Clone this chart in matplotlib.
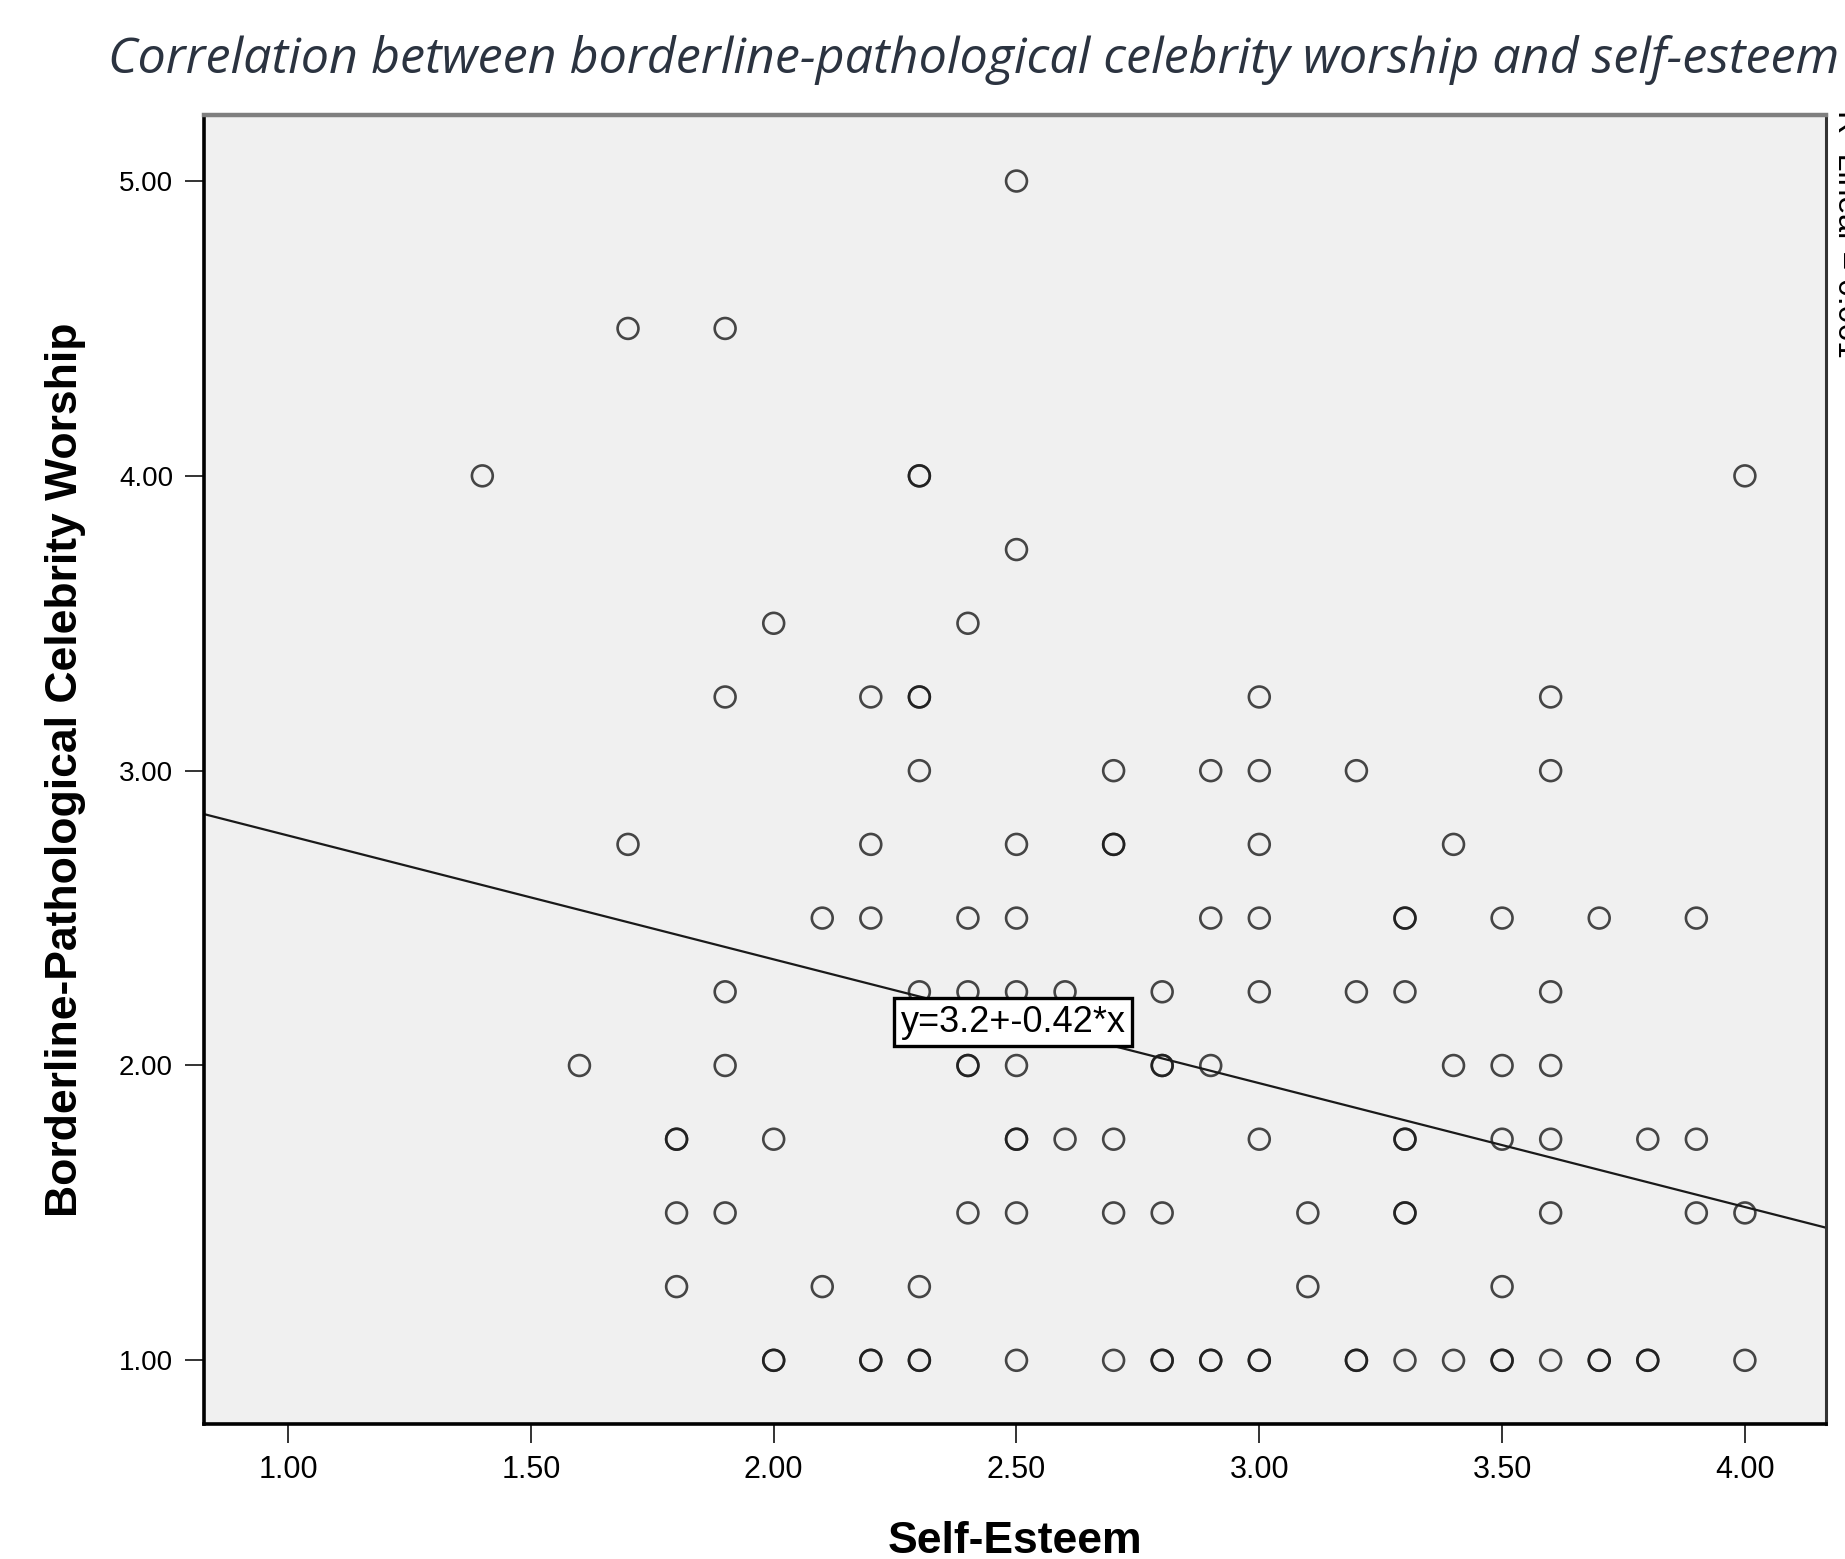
import matplotlib
matplotlib.use("Agg")
import matplotlib.pyplot as plt
import numpy as np

# scatter points, grouped by celebrity-worship level (duplicates repeated)
y_levels = [5.0, 4.5, 4.0, 3.75, 3.5, 3.25, 3.0, 2.75, 2.5, 2.25, 2.0, 1.75, 1.5, 1.25, 1.0]
x_by_level = [
    [2.5],
    [1.7, 1.9],
    [1.4, 2.3, 2.3, 4.0],
    [2.5],
    [2.0, 2.4],
    [1.9, 2.2, 2.3, 2.3, 3.0, 3.6],
    [2.3, 2.7, 2.9, 3.0, 3.2, 3.6],
    [1.7, 2.2, 2.5, 2.7, 2.7, 3.0, 3.4],
    [2.1, 2.2, 2.4, 2.5, 2.9, 3.0, 3.3, 3.3, 3.5, 3.7, 3.9],
    [1.9, 2.3, 2.4, 2.5, 2.6, 2.8, 3.0, 3.2, 3.3, 3.6],
    [1.6, 1.9, 2.4, 2.4, 2.5, 2.8, 2.8, 2.9, 3.4, 3.5, 3.6],
    [1.8, 1.8, 2.0, 2.5, 2.5, 2.6, 2.7, 3.0, 3.3, 3.3, 3.5, 3.6, 3.8, 3.9],
    [1.8, 1.9, 2.4, 2.5, 2.7, 2.8, 3.1, 3.3, 3.3, 3.6, 3.9, 4.0],
    [1.8, 2.1, 2.3, 3.1, 3.5],
    [2.0, 2.0, 2.2, 2.2, 2.3, 2.3, 2.5, 2.7, 2.8, 2.8, 2.9, 2.9, 3.0, 3.0,
     3.2, 3.2, 3.3, 3.4, 3.5, 3.5, 3.6, 3.7, 3.7, 3.8, 3.8, 4.0],
]

# fitted line as printed on the chart
intercept = 3.2
slope = -0.42
fit_label = "y=3.2+-0.42*x"
r2_label = "R² Linear = 0.061"

x_ticks = [1.0, 1.5, 2.0, 2.5, 3.0, 3.5, 4.0]
y_ticks = [1.0, 2.0, 3.0, 4.0, 5.0]

xs = np.concatenate([np.array(v) for v in x_by_level])
ys = np.concatenate([[y] * len(v) for y, v in zip(y_levels, x_by_level)])

W, H = 1845, 1559
fig = plt.figure(figsize=(W / 100, H / 100), dpi=100)
fig.patch.set_facecolor("white")

ax = fig.add_axes([203.6 / W, 1 - 1424 / H, (1826 - 203.6) / W, (1424 - 115) / H])
ax.set_facecolor("#f0f0f0")
ax.set_xlim(0.826, 4.167)
ax.set_ylim(0.784, 5.224)

ax.scatter(xs, ys, s=15 ** 2, facecolors="none", edgecolors="#1a1a1a",
           linewidths=1.9, alpha=0.8, zorder=3)

lx = np.array(ax.get_xlim())
ax.plot(lx, intercept + slope * lx, color="#1a1a1a", lw=1.6, zorder=2)

ax.text(2.493, 2.147, fit_label, ha="center", va="center", fontsize=26,
        family="Liberation Sans", zorder=5,
        bbox=dict(boxstyle="square,pad=0.18", fc="white", ec="black", lw=2.4))

ax.set_xticks(x_ticks)
ax.set_xticklabels([f"{v:.2f}" for v in x_ticks], family="Liberation Sans", fontsize=22)
ax.set_yticks(y_ticks)
ax.set_yticklabels([f"{v:.2f}" for v in y_ticks], family="Liberation Sans", fontsize=20)
ax.tick_params(axis="both", direction="out", length=14, width=1.4, color="#333333", pad=8)

for side in ["left", "bottom"]:
    ax.spines[side].set_linewidth(2.6)
    ax.spines[side].set_color("black")
ax.spines["top"].set_linewidth(3.2)
ax.spines["top"].set_color("#7f7f7f")
ax.spines["right"].set_linewidth(2.2)
ax.spines["right"].set_color("#333333")

ax.set_xlabel("Self-Esteem", family="Liberation Sans", fontweight="bold", fontsize=32, labelpad=26)
ax.set_ylabel("Borderline-Pathological Celebrity Worship", family="Liberation Sans",
              fontweight="bold", fontsize=32, labelpad=24)

fig.text(108 / W, 1 - 73 / H, "Correlation between borderline-pathological celebrity worship and self-esteem",
         family="Open Sans", style="italic", fontsize=36.2, color="#2b3340", ha="left", va="baseline")

fig.text(1831 / W, 1 - 110 / H, r2_label, rotation=270, family="Liberation Sans",
         fontsize=23, ha="left", va="top")

fig.savefig("out.png", dpi=100)
